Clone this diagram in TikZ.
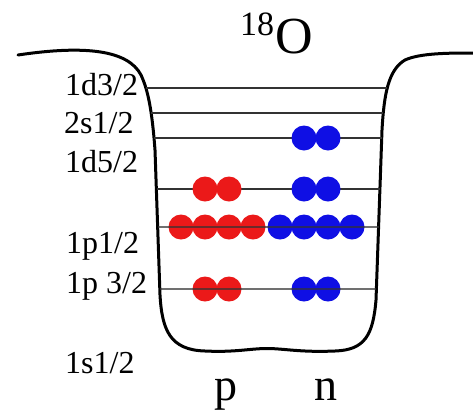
\documentclass[tikz,border=0pt]{standalone}
\usepackage{fontspec}
\setmainfont{Liberation Serif}
\definecolor{pred}{RGB}{235,25,25}
\definecolor{nblue}{RGB}{15,15,228}
\begin{document}
\begin{tikzpicture}[x=1pt,y=-1pt,
  lbl/.style={anchor=base west,inner sep=0pt,font=\fontsize{32}{36}\selectfont},
  big/.style={anchor=base west,inner sep=0pt,font=\fontsize{46}{50}\selectfont},
  wall/.style={line width=3pt,line join=round,line cap=round},
  level/.style={line width=1.7pt,draw=black!80},
  pdot/.style={fill=pred},
  ndot/.style={fill=nblue}]
\useasboundingbox (0,0) rectangle (473,413);
% title
\node[anchor=base west,inner sep=0pt,font=\fontsize{34}{38}\selectfont] (mass) at (240,35) {18};
\node[anchor=base west,inner sep=0pt,font=\fontsize{52}{56}\selectfont] (elem) at (275,53) {O};
% potential well
\draw[wall] (18,55) .. controls (85,45) and (128,50) .. (141,75)
  .. controls (148,90) and (152,110) .. (155,150)
  -- (160,295)
  .. controls (162,330) and (170,350) .. (205,351)
  .. controls (235,352.5) and (250,348.5) .. (267,348.5)
  .. controls (284,348.5) and (300,352.5) .. (335,351)
  .. controls (365,350) and (373,335) .. (376,300)
  -- (382,130)
  .. controls (384,95) and (388,70) .. (405,60)
  .. controls (420,53) and (450,53) .. (473,53);
% upper levels (lines under dots)
\draw[level] (146,88) -- (386.5,88);
\draw[level] (151,113) -- (383,113);
\draw[level] (154,138) -- (381.7,138);
\draw[level] (156.5,189) -- (380,189);
% dots
\foreach \x in {304,328} \fill[ndot] (\x,138) circle[radius=12.5];
\foreach \x in {205,229} \fill[pdot] (\x,189) circle[radius=12.5];
\foreach \x in {304,328} \fill[ndot] (\x,189) circle[radius=12.5];
\foreach \x in {181,205,229,253} \fill[pdot] (\x,227) circle[radius=12.5];
\foreach \x in {280,304,328,352} \fill[ndot] (\x,227) circle[radius=12.5];
\foreach \x in {205,229} \fill[pdot] (\x,289) circle[radius=12.5];
\foreach \x in {304,328} \fill[ndot] (\x,289) circle[radius=12.5];
% lower levels (lines over dots)
\draw[level,draw opacity=0.7] (157.8,227) -- (378.6,227);
\draw[level,draw opacity=0.7] (159.8,289) -- (376.4,289);
% level labels
\node[lbl] (l1) at (65,95) {1d3/2};
\node[lbl] (l2) at (64,133) {2s1/2};
\node[lbl] (l3) at (65,172) {1d5/2};
\node[lbl] (l4) at (66,253) {1p1/2};
\node[lbl] (l5) at (66,293) {1p 3/2};
\node[lbl] (l6) at (65,373) {1s1/2};
% particle labels
\node[big] (p) at (214,400) {p};
\node[big] (n) at (314,400) {n};
\end{tikzpicture}
\end{document}
